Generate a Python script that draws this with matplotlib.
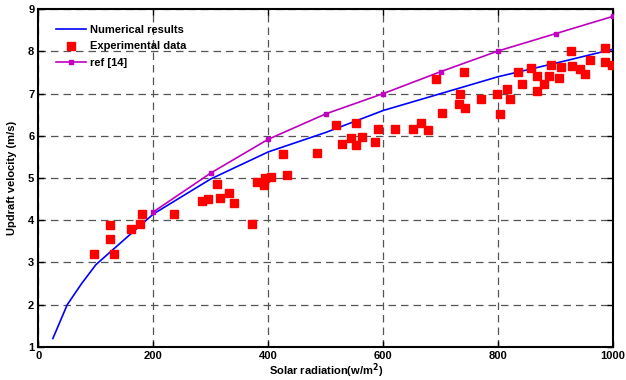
import matplotlib
matplotlib.use("Agg")
import matplotlib.pyplot as plt

# Numerical results (blue line)
num_x = [25, 50, 75, 100, 150, 200, 300, 400, 500, 600, 700, 800, 900, 1000]
num_y = [1.2, 2.0, 2.5, 2.95, 3.55, 4.15, 4.98, 5.62, 6.08, 6.6, 7.0, 7.4, 7.72, 8.05]

# ref [14] (magenta line with markers)
ref_x = [200, 300, 400, 500, 600, 700, 800, 900, 1000]
ref_y = [4.2, 5.12, 5.92, 6.52, 7.0, 7.52, 8.01, 8.42, 8.83]

# Experimental data (red squares)
exp_x = [96, 125, 125, 131, 161, 177, 180, 235, 284, 295, 311, 315, 332, 340,
         371, 381, 392, 394, 404, 425, 433, 484, 517, 528, 544, 552, 552, 563,
         586, 591, 620, 651, 665, 678, 691, 703, 731, 733, 741, 742, 770, 798,
         803, 815, 821, 834, 841, 857, 868, 868, 879, 888, 892, 905, 910, 926,
         929, 942, 951, 959, 985, 986, 998]
exp_y = [3.21, 3.89, 3.55, 3.21, 3.79, 3.9, 4.15, 4.15, 4.46, 4.51, 4.85, 4.53, 4.65, 4.4,
         3.9, 4.91, 4.84, 4.99, 5.03, 5.57, 5.06, 5.6, 6.25, 5.8, 5.95, 6.3, 5.79, 5.98,
         5.86, 6.15, 6.16, 6.16, 6.3, 6.14, 7.34, 6.55, 6.76, 7.0, 7.51, 6.67, 6.86, 7.0,
         6.51, 7.11, 6.88, 7.5, 7.22, 7.6, 7.42, 7.05, 7.22, 7.41, 7.68, 7.38, 7.63, 8.0,
         7.66, 7.59, 7.46, 7.79, 8.07, 7.75, 7.68]

x_ticks = [0, 200, 400, 600, 800, 1000]
y_ticks = [1, 2, 3, 4, 5, 6, 7, 8, 9]

plt.rcParams['font.family'] = ['Liberation Sans', 'DejaVu Sans']
plt.rcParams['font.weight'] = 'bold'

fig = plt.figure(figsize=(6.26, 3.80), dpi=100)
ax = fig.add_axes([0.0615, 0.087, 0.918, 0.889])

ax.plot(num_x, num_y, color='#0000ff', lw=1.2, label='Numerical results', zorder=3)
ax.plot(exp_x, exp_y, ls='none', marker='s', ms=5.5, color='#ff0000', mec='#ff0000',
        label='Experimental data', zorder=4)
ax.plot(ref_x, ref_y, color='#bf00bf', lw=1.2, marker='s', ms=3, label='ref [14]', zorder=3)

ax.set_xlim(0, 1000)
ax.set_ylim(1, 9)
ax.set_xticks(x_ticks)
ax.set_yticks(y_ticks)
ax.set_xticklabels([str(t) for t in x_ticks], fontsize=8, fontweight='bold')
ax.set_yticklabels([str(t) for t in y_ticks], fontsize=8, fontweight='bold')
ax.tick_params(direction='in', length=4, width=1, top=True, right=True, pad=3)

ax.grid(True, color='#555555', ls=(0, (6, 4)), lw=0.9)
ax.set_axisbelow(True)
for s in ax.spines.values():
    s.set_linewidth(1.5)

ax.set_xlabel('Solar radiation(w/m$^2$)', fontsize=8, fontweight='bold', labelpad=0)
ax.set_ylabel('Updraft velocity (m/s)', fontsize=8, fontweight='bold', labelpad=8)

leg = ax.legend(loc='upper left', frameon=False, fontsize=8, handlelength=2.7,
                handletextpad=0.4, borderaxespad=0.0, labelspacing=0.55,
                bbox_to_anchor=(0.022, 0.965))
for t in leg.get_texts():
    t.set_fontweight('bold')

fig.savefig('out.png', dpi=100)
